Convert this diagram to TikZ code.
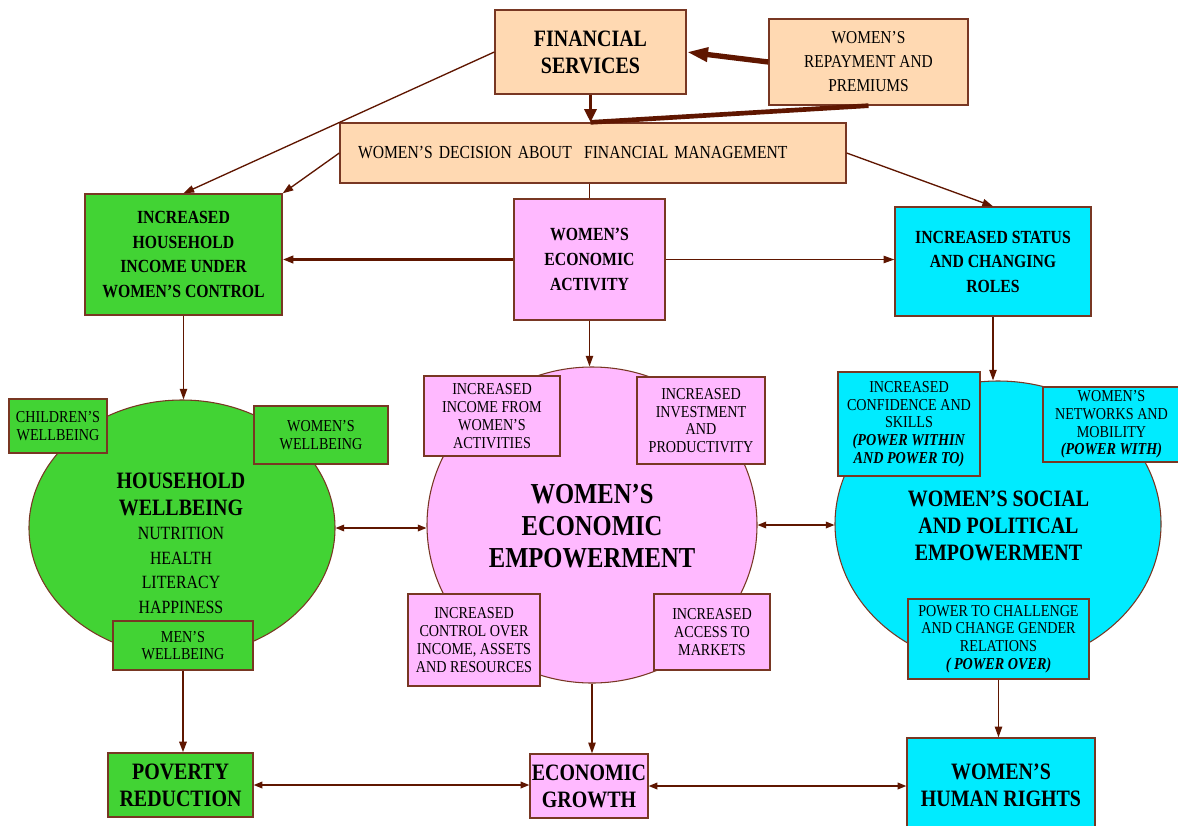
\documentclass[tikz,border=0pt]{standalone}
\usepackage{fontspec}
\setmainfont{Liberation Serif}[FakeStretch=0.85]
\usetikzlibrary{arrows.meta,shapes.geometric}
\definecolor{peach}{RGB}{255,217,178}
\definecolor{lgreen}{RGB}{66,211,52}
\definecolor{lpink}{RGB}{255,185,255}
\definecolor{lcyan}{RGB}{0,235,255}
\definecolor{linecol}{RGB}{95,22,0}
\definecolor{bord}{RGB}{120,55,35}
\newcommand\fBig{\fontsize{17.6pt}{20.25pt}\selectfont\bfseries}
\newcommand\fHuge{\fontsize{21.7pt}{24pt}\selectfont\bfseries}
\newcommand\fMed{\fontsize{13.9pt}{18.4pt}\selectfont\bfseries}
\newcommand\fList{\fontsize{14pt}{18.4pt}\selectfont}
\newcommand\fSmall{\fontsize{12.5pt}{13.3pt}\selectfont}
\newcommand\fRep{\fontsize{13.6pt}{18pt}\selectfont}
\newcommand\fDec{\fontsize{13.8pt}{17pt}\selectfont}
\newcommand\pw[1]{\textbf{\textit{#1}}}
\begin{document}
\begin{tikzpicture}[x=0.75pt,y=-0.75pt,
  box/.style={draw=bord, line width=1pt, inner sep=0pt, align=center, text=black},
  wh/.style 2 args={minimum width=#1*0.75pt, minimum height=#2*0.75pt},
  ell/.style={ellipse, draw=bord, line width=0.8pt, inner sep=0pt},
  txt/.style={inner sep=0pt, align=center, text=black},
  cn/.style={draw=linecol, line width=1pt},
  tip/.style={-{Triangle[length=8pt,width=5.5pt]}},
  both/.style={{Triangle[length=6.5pt,width=5pt]}-{Triangle[length=6.5pt,width=5pt]}}]
\fill[white] (0,0) rectangle (1178,825);
\useasboundingbox (0,0) rectangle (1178,825);

% top
\node[box, fill=peach, wh={191}{84}, font=\fBig] (fs) at (590.5,52) {FINANCIAL\\SERVICES};
\node[box, fill=peach, wh={199}{86}, font=\fRep] (rep) at (868.5,62) {WOMEN'S\\REPAYMENT AND\\PREMIUMS};
\node[box, fill=peach, minimum height=60*0.75pt, text width=470*0.75pt, inner xsep=18*0.75pt, align=left, font=\fDec] (dec) at (593,153) {WOMEN'S DECISION ABOUT~ FINANCIAL MANAGEMENT};

% second row
\node[box, fill=lgreen, wh={197}{121}, font=\fMed] (hh) at (183.5,254.5) {INCREASED\\HOUSEHOLD\\INCOME UNDER\\WOMEN'S CONTROL};
\node[box, fill=lpink, wh={151}{121}, font=\fMed] (wea) at (589.5,259.5) {WOMEN'S\\ECONOMIC\\ACTIVITY};
\node[box, fill=lcyan, wh={196}{109}, font=\fMed] (st) at (993,261.5) {INCREASED STATUS\\AND CHANGING\\ROLES};

% ellipses
\node[ell, fill=lgreen, minimum width=306*0.75pt, minimum height=256*0.75pt] (hw) at (182,528) {};
\node[ell, fill=lpink, minimum width=330*0.75pt, minimum height=316*0.75pt] (we) at (592,525) {};
\node[ell, fill=lcyan, minimum width=326*0.75pt, minimum height=286*0.75pt] (sp) at (998,524) {};

\node[txt, font=\fList] (hwt) at (181,543) {{\fBig HOUSEHOLD}\\[2pt]{\fBig WELLBEING}\\NUTRITION\\HEALTH\\LITERACY\\HAPPINESS};
\node[txt, font=\fHuge] (wet) at (592,526) {WOMEN'S\\ECONOMIC\\EMPOWERMENT};
\node[txt, font=\fBig] (spt) at (998.5,526) {WOMEN'S SOCIAL\\AND POLITICAL\\EMPOWERMENT};

% small boxes
\node[box, fill=lgreen, wh={98}{54}, font=\fSmall] (ch) at (58,426) {CHILDREN'S\\WELLBEING};
\node[box, fill=lgreen, wh={134}{58}, font=\fSmall] (ww) at (321,435) {WOMEN'S\\WELLBEING};
\node[box, fill=lgreen, wh={140}{49}, font=\fSmall] (mw) at (183,645.5) {MEN'S\\WELLBEING};

\node[box, fill=lpink, wh={136}{80}, font=\fSmall] (ii) at (492,416) {INCREASED\\INCOME FROM\\WOMEN'S\\ACTIVITIES};
\node[box, fill=lpink, wh={128}{87}, font=\fSmall] (ip) at (701,420.5) {INCREASED\\INVESTMENT\\AND\\PRODUCTIVITY};
\node[box, fill=lpink, wh={132}{92}, font=\fSmall] (ic) at (474,640) {INCREASED\\CONTROL OVER\\INCOME, ASSETS\\AND RESOURCES};
\node[box, fill=lpink, wh={116}{76}, font=\fSmall] (am) at (712,632) {INCREASED\\ACCESS TO\\MARKETS};

\node[box, fill=lcyan, wh={142}{104}, font=\fSmall] (cs) at (909,424) {INCREASED\\CONFIDENCE AND\\SKILLS\\\pw{(POWER WITHIN}\\\pw{AND POWER TO)}};
\node[box, fill=lcyan, wh={137}{75}, font=\fSmall] (nm) at (1111.5,424.5) {WOMEN'S\\NETWORKS AND\\MOBILITY\\\pw{(POWER WITH)}};
\node[box, fill=lcyan, wh={181}{80}, font=\fSmall] (pc) at (998.5,639) {POWER TO CHALLENGE\\AND CHANGE GENDER\\RELATIONS\\\pw{( POWER OVER)}};

% bottom row
\node[box, fill=lgreen, wh={145}{64}, font=\fBig] (pr) at (180.5,785) {POVERTY\\REDUCTION};
\node[box, fill=lpink, wh={118}{64}, font=\fBig] (eg) at (589,786) {ECONOMIC\\GROWTH};
\node[box, fill=lcyan, wh={188}{94}, font=\fBig] (hr) at (1001,785) {WOMEN'S\\HUMAN RIGHTS};

% connectors
\draw[cn, tip] (fs.west) -- (hh.north);
\draw[cn, tip] (dec.west) -- (hh.north east);
\draw[cn, line width=2.5pt, -{Triangle[length=10pt,width=9pt]}] (fs.south) -- (fs.south |- dec.north);
\draw[cn, line width=4pt, -{Triangle[length=16pt,width=10pt]}] (rep.west) -- (fs.east);
\draw[cn, line width=3.5pt] (fs.south |- dec.north) -- (rep.south);
\draw[cn, tip] (dec.east) -- (st.north);
\draw[cn] (wea.north |- dec.south) -- (wea.north);
\draw[cn, line width=2.2pt, tip] (wea.west) -- (wea.west -| hh.east);
\draw[cn, tip] (wea.east) -- (wea.east -| st.west);
\draw[cn, tip] (hh.south) -- (hh.south |- hw.north);
\draw[cn, tip] (wea.south) -- (wea.south |- we.north);
\draw[cn, tip] (st.south) -- (st.south |- sp.north);
\draw[cn, both] (hw.east) -- (hw.east -| we.west);
\draw[cn, both] (we.east) -- (we.east -| sp.west);
\draw[cn, line width=1.6pt, tip] (mw.south) -- (mw.south |- pr.north);
\draw[cn, tip] (we.south) -- (we.south |- eg.north);
\draw[cn, tip] (pc.south) -- (pc.south |- hr.north);
\draw[cn, both] (pr.east) -- (pr.east -| eg.west);
\draw[cn, both] (eg.east) -- (eg.east -| hr.west);
\end{tikzpicture}
\end{document}
